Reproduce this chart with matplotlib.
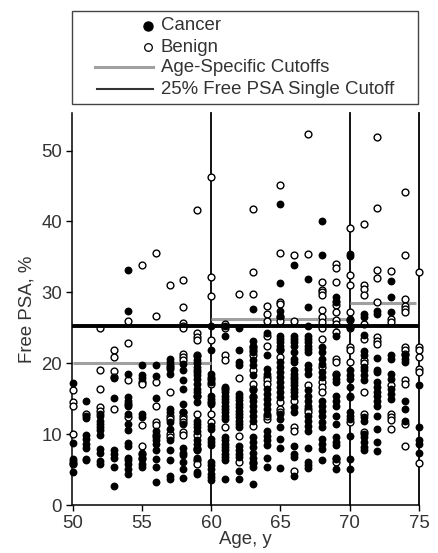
import matplotlib
matplotlib.use('Agg')
import matplotlib.pyplot as plt
from matplotlib.patches import Rectangle
from matplotlib.lines import Line2D

plt.rcParams['font.family'] = ['Liberation Sans', 'DejaVu Sans']

ages = list(range(50, 76))

# one list per age
cancer = [
    [17.2, 8.8, 6.5, 5.9, 6.2, 4.6],
    [14.7, 12.6, 12.3, 9.9, 9.3, 8.6, 8.1, 6.4, 6.5],
    [12.9, 12.5, 11.9, 11.4, 11.0, 10.6, 9.9, 7.9, 7.3, 6.2, 5.8],
    [15.1, 17.9, 7.8, 7.2, 6.7, 5.4, 2.7],
    [33.1, 27.4, 18.5, 15.2, 14.7, 14.0, 12.9, 11.4, 10.6, 8.8, 8.3, 6.7, 6.3, 5.8, 5.1, 4.4],
    [19.8, 18.3, 17.9, 12.9, 12.4, 7.4, 6.5, 5.8, 5.4],
    [19.8, 18.2, 15.1, 10.4, 9.6, 9.1, 8.6, 7.7, 6.5, 5.3, 3.3],
    [20.6, 20.2, 19.8, 19.2, 18.5, 13.6, 13.1, 11.7, 10.7, 9.1, 7.8, 6.3, 4.1, 3.7],
    [19.9, 19.0, 17.7, 16.4, 14.2, 13.1, 11.4, 8.1, 7.4, 7.0, 6.0, 5.1, 3.8],
    [21.0, 20.5, 20.0, 19.5, 19.0, 18.7, 18.3, 17.8, 17.1, 16.4, 15.9, 15.4, 14.5, 11.9, 11.4, 11.0,
     10.5, 9.1, 8.6, 8.1, 7.7, 6.7, 4.6, 4.4],
    [25.3, 21.9, 18.5, 18.0, 17.3, 15.4, 15.0, 14.3, 11.2, 10.7, 9.3, 8.9, 8.4, 6.0, 5.6, 5.1,
     4.4, 3.9, 3.5],
    [25.3, 23.8, 16.6, 15.9, 15.4, 15.0, 14.5, 14.0, 13.6, 13.1, 12.6, 12.1, 9.6, 9.1, 8.6, 8.2, 7.7,
     7.2, 6.8, 6.4, 3.7],
    [25.0, 21.8, 20.2, 19.7, 15.7, 15.2, 14.8, 14.3, 13.8, 13.3, 12.9, 12.4, 11.9, 11.4, 11.0, 8.3,
     7.7, 7.2, 6.8, 4.8, 3.6],
    [27.6, 23.1, 22.5, 21.6, 20.4, 19.7, 18.3, 16.2, 15.4, 14.7, 14.0, 13.3, 12.6, 11.9, 9.6, 8.9, 8.2,
     7.4, 6.7, 6.0, 5.3, 3.0],
    [24.2, 21.1, 19.2, 18.5, 16.4, 15.7, 15.0, 14.3, 13.6, 12.9, 10.5, 9.8, 9.1, 8.4, 6.7, 5.4],
    [42.4, 31.3, 27.4, 26.7, 23.9, 23.4, 23.0, 22.5, 22.0, 20.2, 19.5, 18.8, 18.0, 17.3, 16.6, 15.9,
     15.2, 12.9, 12.1, 11.0, 9.3, 8.1, 5.2],
    [33.9, 23.9, 23.4, 23.0, 22.5, 21.6, 20.6, 20.2, 17.8, 19.0, 18.5, 18.0, 17.3, 16.9, 16.4, 15.9,
     15.4, 13.8, 13.1, 8.3, 7.2, 6.8, 4.1],
    [31.9, 27.9, 25.3, 23.9, 23.4, 23.0, 22.5, 22.0, 21.6, 19.7, 19.2, 18.5, 16.2, 15.4, 14.7, 14.0,
     12.6, 11.9, 11.2, 10.5, 8.1, 6.0, 5.6, 5.2],
    [40.1, 35.2, 22.3, 21.6, 20.6, 19.9, 18.7, 18.0, 14.7, 14.0, 13.3, 12.6, 11.7, 11.0, 9.3, 8.6, 7.9,
     6.3],
    [28.8, 29.3, 28.6, 23.9, 18.3, 17.8, 17.3, 15.4, 14.7, 14.0, 12.6, 11.4, 9.6, 8.9, 8.4, 6.5, 5.1],
    [35.4, 35.1, 26.3, 25.1, 19.0, 18.3, 17.8, 16.6, 15.4, 15.2, 13.1, 12.6, 12.1, 9.8, 6.5, 5.1],
    [27.0, 26.5, 24.0, 21.7, 21.1, 19.4, 19.0, 18.3, 17.7, 12.4, 11.9, 10.0, 9.6, 8.9, 8.2, 7.7],
    [27.0, 27.4, 20.8, 19.0, 18.7, 17.3, 16.6, 15.9, 15.4, 14.7, 14.0, 12.5, 10.7, 8.9, 7.6],
    [31.6, 29.3, 27.2, 21.1, 20.6, 18.5, 17.8, 16.4, 15.7, 15.0],
    [21.1, 20.6, 20.2, 14.7, 13.6, 11.9],
    [16.9, 11.0, 9.1, 8.6, 7.3],
]

benign = [
    [16.2, 14.5, 14.0, 10.0, 5.8],
    [12.9],
    [25.0, 19.1, 16.4, 13.8, 13.3],
    [21.8, 20.9, 18.9, 18.1, 13.5],
    [25.9, 22.8, 17.7, 14.3, 12.4],
    [33.9, 17.3, 17.0, 11.3, 8.3, 7.2, 6.7],
    [35.5, 26.6, 17.4, 14.0, 11.7, 11.3, 9.9],
    [31.0, 19.4, 15.9, 12.6, 12.1, 10.0, 9.6],
    [31.7, 28.0, 25.7, 25.3, 24.9, 21.3, 20.9, 20.4, 13.1, 12.6, 12.1, 11.7, 10.3, 9.9],
    [41.6, 24.2, 23.7, 23.3, 21.2, 15.4, 12.8, 9.9, 7.9, 6.3, 5.8],
    [46.3, 32.1, 29.5, 23.3, 17.8, 17.1, 14.5, 12.9, 11.7],
    [25.6, 25.0, 21.1, 20.4, 16.4, 11.0],
    [29.8, 17.9, 9.8, 6.0],
    [41.7, 32.8, 29.7, 22.3, 21.8, 21.1, 19.0, 17.1, 16.4, 15.2, 11.2, 5.9],
    [28.1, 27.0, 26.0, 23.9, 22.5, 18.0, 17.6, 17.1, 12.1, 12.6],
    [45.1, 35.6, 28.6, 28.4, 26.5, 26.0, 21.8, 20.9, 14.5, 13.6, 13.1],
    [35.2, 26.0, 14.7, 11.0, 10.5, 4.8],
    [52.3, 35.4, 16.9, 13.6, 13.1],
    [31.4, 30.4, 30.0, 29.6, 27.5, 26.5, 25.8, 24.9, 23.4, 19.4, 17.3, 16.6, 15.9],
    [34.0, 33.4, 31.4, 28.2, 27.2, 26.1, 25.6, 24.4, 20.6, 20.2, 18.5, 6.7, 6.0],
    [39.1, 32.5, 31.1, 27.2, 26.1, 24.9, 22.3, 21.8, 20.2, 11.7],
    [39.6, 31.0, 30.5, 29.6, 25.6, 23.4, 20.4, 20.0, 15.9, 12.9, 10.3],
    [51.9, 41.9, 33.2, 32.0, 28.6, 23.7, 23.2, 22.7],
    [33.0, 26.3, 25.8, 16.9, 12.9, 12.4, 12.0, 10.7],
    [44.2, 35.2, 29.1, 28.1, 27.7, 27.2, 22.3, 21.8, 21.3, 17.6, 17.1, 11.4, 8.3],
    [32.8, 22.3, 21.8, 20.9, 19.2, 18.7, 5.9],
]

cancer_x = [a for a, vals in zip(ages, cancer) for v in vals]
cancer_y = [v for vals in cancer for v in vals]
benign_x = [a for a, vals in zip(ages, benign) for v in vals]
benign_y = [v for vals in benign for v in vals]

age_cuts = [60, 70, 75]
single_cutoff = 25.2
# start age, end age, cutoff
group_start = [50, 60, 70]
group_end = [60, 70, 74.8]
group_cutoff = [20.0, 26.3, 28.5]

W, H = 439, 553
txt = '#333333'

fig = plt.figure(figsize=(W / 100, H / 100), dpi=100)
ax = fig.add_axes([72.5 / W, 1 - 505 / H, (419 - 72.5) / W, (505 - 113) / H])
ax.set_xlim(50, 75)
ax.set_ylim(0, 55.3)

for s in ['top', 'right']:
    ax.spines[s].set_visible(False)
for s in ['left', 'bottom']:
    ax.spines[s].set_linewidth(1.1)

ax.scatter(benign_x, benign_y, s=24, facecolor='white', edgecolor='black', linewidth=1.0, zorder=3, clip_on=False)
ax.scatter(cancer_x, cancer_y, s=32, color='black', linewidth=0, zorder=4, clip_on=False)

for a in age_cuts:
    ax.axvline(a, color='black', lw=1.3, zorder=2, clip_on=False)
ax.hlines(group_cutoff, group_start, group_end, color='#a0a0a0', lw=2.2, zorder=2)
ax.plot([50, 75], [single_cutoff, single_cutoff], color='black', lw=2.8, zorder=5)

ax.set_xticks([50, 55, 60, 65, 70, 75])
ax.set_yticks([0, 10, 20, 30, 40, 50])
ax.tick_params(labelsize=13.4, labelcolor=txt, length=4.5, width=1, pad=3)
ax.set_xlabel('Age, y', fontsize=13.4, color=txt, labelpad=-1)
ax.set_ylabel('Free PSA, %', fontsize=13.4, color=txt, labelpad=4)

# legend box laid out by hand in pixels
leg = fig.add_axes([0, 0, 1, 1], facecolor='none')
leg.set_xlim(0, W)
leg.set_ylim(H, 0)
leg.axis('off')
leg.add_patch(Rectangle((72, 11), 346, 93, facecolor='white', edgecolor='#444444', lw=1))
labels = ['Cancer', 'Benign', 'Age-Specific Cutoffs', '25% Free PSA Single Cutoff']
rows = [26, 47, 67.5, 89]
for lab, r in zip(labels, rows):
    leg.text(161, r, lab, fontsize=13.4, color=txt, va='center', ha='left')
leg.add_line(Line2D([148], [rows[0]], marker='o', ms=6.5, mfc='black', mec='black', ls=''))
leg.add_line(Line2D([148], [rows[1]], marker='o', ms=5.5, mfc='white', mec='black', mew=0.9, ls=''))
leg.add_line(Line2D([95, 153], [rows[2] - 1, rows[2] - 1], color='#a0a0a0', lw=2.2))
leg.add_line(Line2D([97, 153], [rows[3], rows[3]], color='#333333', lw=1.5))

fig.savefig('out.png', dpi=100)
